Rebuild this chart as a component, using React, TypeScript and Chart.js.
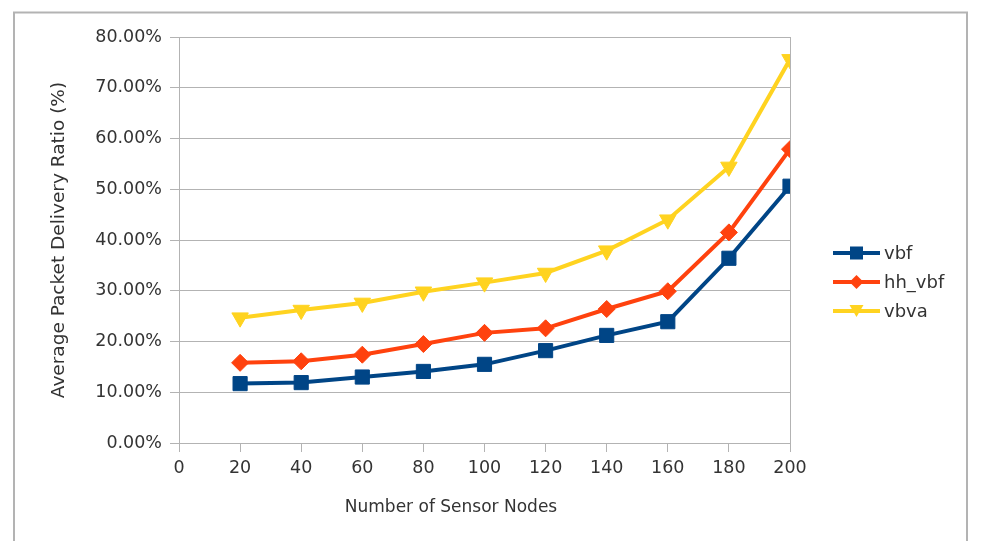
import React, { useEffect, useRef } from "react";
import { Chart, registerables } from "chart.js";

Chart.register(...registerables);

const nodes = [20, 40, 60, 80, 100, 120, 140, 160, 180, 200];
const vbf = [11.7, 11.9, 13.0, 14.1, 15.5, 18.2, 21.2, 23.9, 36.4, 50.6];
const hhVbf = [15.8, 16.1, 17.4, 19.5, 21.7, 22.6, 26.4, 29.9, 41.5, 57.9];
const vbva = [24.7, 26.2, 27.6, 29.8, 31.6, 33.5, 37.9, 44.0, 54.4, 75.6];
const seriesNames = ["vbf", "hh_vbf", "vbva"];
const seriesColors = ["#004586", "#ff420e", "#ffd320"];
const xTitle = "Number of Sensor Nodes";
const yTitle = "Average Packet Delivery Ratio (%)";

const FONT = "'DejaVu Sans', 'Liberation Sans', sans-serif";
const GRID = "#b3b3b3";
const TEXT = "#333333";

export default function App() {
  const ref = useRef<HTMLCanvasElement | null>(null);

  useEffect(() => {
    const canvas = ref.current;
    if (!canvas) return;

    const toPts = (arr: number[]) => nodes.map((x, i) => ({ x, y: arr[i] }));
    const styles = ["rect", "rectRot", "triangle"];
    const radii = [10, 8.5, 9.5];
    const rotations = [0, 0, 180];

    const framePlugin = {
      id: "frame",
      beforeDraw(chart: any) {
        const ctx = chart.ctx;
        ctx.save();
        ctx.fillStyle = "#ffffff";
        ctx.fillRect(0, 0, chart.width, chart.height);
        ctx.strokeStyle = GRID;
        ctx.lineWidth = 2;
        ctx.strokeRect(14, 12.5, 953, 600);
        ctx.restore();
      },
      afterDraw(chart: any) {
        const ctx = chart.ctx;
        ctx.save();
        // x axis title
        ctx.fillStyle = TEXT;
        ctx.font = `17px ${FONT}`;
        ctx.textAlign = "center";
        ctx.textBaseline = "middle";
        ctx.fillText(xTitle, 451, 508);
        // legend
        const lx = 833;
        const lw = 47;
        const ys = [253, 282, 311];
        ctx.font = `18px ${FONT}`;
        ctx.textAlign = "left";
        for (let i = 0; i < 3; i++) {
          const y = ys[i];
          ctx.strokeStyle = seriesColors[i];
          ctx.lineWidth = 4;
          ctx.beginPath();
          ctx.moveTo(lx, y);
          ctx.lineTo(lx + lw, y);
          ctx.stroke();
          ctx.fillStyle = seriesColors[i];
          const cx = lx + lw / 2;
          if (i === 0) {
            ctx.fillRect(cx - 6.5, y - 6.5, 13, 13);
          } else if (i === 1) {
            ctx.beginPath();
            ctx.moveTo(cx, y - 7);
            ctx.lineTo(cx + 7, y);
            ctx.lineTo(cx, y + 7);
            ctx.lineTo(cx - 7, y);
            ctx.closePath();
            ctx.fill();
          } else {
            ctx.beginPath();
            ctx.moveTo(cx - 7, y - 6);
            ctx.lineTo(cx + 7, y - 6);
            ctx.lineTo(cx, y + 6);
            ctx.closePath();
            ctx.fill();
          }
          ctx.fillStyle = TEXT;
          ctx.fillText(seriesNames[i], lx + lw + 4, y + 1);
        }
        ctx.restore();
      },
    };

    const chart = new Chart(canvas, {
      type: "line",
      data: {
        datasets: [vbf, hhVbf, vbva].map((arr, i) => ({
          label: seriesNames[i],
          data: toPts(arr),
          borderColor: seriesColors[i],
          backgroundColor: seriesColors[i],
          borderWidth: 4,
          pointStyle: styles[i] as any,
          pointRadius: radii[i],
          pointRotation: rotations[i],
          pointBorderWidth: 1,
          pointBorderColor: seriesColors[i],
          pointBackgroundColor: seriesColors[i],
          tension: 0,
          fill: false,
        })),
      },
      options: {
        responsive: false,
        animation: false,
        devicePixelRatio: 1,
        layout: { padding: { top: 37, right: 191, bottom: 0, left: 0 } },
        plugins: {
          legend: { display: false },
          tooltip: { enabled: false },
        },
        scales: {
          x: {
            type: "linear",
            min: 0,
            max: 200,
            afterFit(scale: any) {
              scale.height = 98;
            },
            ticks: {
              stepSize: 20,
              color: TEXT,
              padding: 6,
              font: { family: FONT, size: 17.5 },
            },
            grid: {
              color: (c: any) => (c.tick && c.tick.value === 200 ? GRID : "rgba(0,0,0,0)"),
              tickColor: GRID,
              tickLength: 9,
              drawTicks: true,
            },
            border: { color: GRID, width: 1 },
          },
          y: {
            type: "linear",
            min: 0,
            max: 80,
            afterFit(scale: any) {
              scale.width = 179;
            },
            ticks: {
              stepSize: 10,
              color: TEXT,
              padding: 8,
              font: { family: FONT, size: 17.5 },
              callback: (v: any) => Number(v).toFixed(2) + "%",
            },
            grid: {
              color: GRID,
              tickColor: GRID,
              tickLength: 9,
            },
            border: { color: GRID, width: 1 },
            title: {
              display: true,
              text: yTitle,
              color: TEXT,
              font: { family: FONT, size: 18.5 },
              padding: { top: 48, bottom: 0 },
            },
          },
        },
      },
      plugins: [framePlugin],
    });

    return () => chart.destroy();
  }, []);

  return (
    <div style={{ position: "absolute", left: 0, top: 0, width: 981, height: 541, background: "#fff" }}>
      <canvas ref={ref} width={981} height={541} style={{ display: "block" }} />
    </div>
  );
}
